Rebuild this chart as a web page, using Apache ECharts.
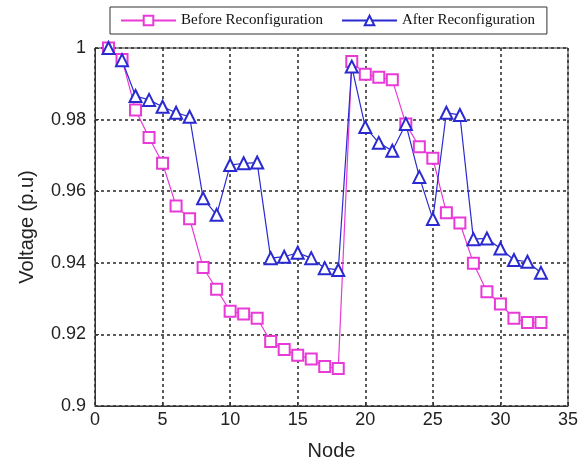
<!DOCTYPE html>
<html><head><meta charset="utf-8">
<script src="https://cdn.jsdelivr.net/npm/echarts@6/dist/echarts.min.js"></script>
<style>html,body{margin:0;padding:0;background:#fff}#c{width:587px;height:461px}</style>
</head><body><div id="c"></div>
<script>
var nodes = [1,2,3,4,5,6,7,8,9,10,11,12,13,14,15,16,17,18,19,20,21,22,23,24,25,26,27,28,29,30,31,32,33];
var before = [1.0,0.9968,0.9827,0.975,0.9678,0.9559,0.9523,0.9387,0.9326,0.9265,0.9257,0.9245,0.918,0.9158,0.9142,0.9131,0.911,0.9105,0.9962,0.9927,0.9918,0.9911,0.9788,0.9724,0.9692,0.954,0.9511,0.9399,0.9319,0.9285,0.9245,0.9233,0.9233];
var after = [1.0,0.9966,0.9866,0.9855,0.9836,0.9819,0.9808,0.958,0.9534,0.9673,0.9678,0.968,0.9413,0.9417,0.9428,0.9413,0.9385,0.938,0.9948,0.9779,0.9735,0.9713,0.9788,0.964,0.9522,0.9819,0.9813,0.9466,0.9468,0.944,0.9408,0.9403,0.9372];
var seriesNames = ['Before Reconfiguration','After Reconfiguration'];
var pink = '#e83ad6', blue = '#2a2ad0';
function pairs(v){return nodes.map(function(n,i){return [n,v[i]];});}
var chart = echarts.init(document.getElementById('c'));
var grid = '#333';
chart.setOption({
  animation:false,
  backgroundColor:'#fff',
  grid:{left:95,right:19,top:48,bottom:55,containLabel:false,outerBoundsMode:'none',show:true,borderColor:'#333',borderWidth:1,backgroundColor:'transparent'},
  legend:{
    left:110, top:7,
    padding:[6,12,6,10],
    borderColor:'#333', borderWidth:1, backgroundColor:'#fff',
    itemWidth:55, itemHeight:12, itemGap:18,
    textStyle:{fontFamily:'Liberation Serif',fontSize:15,color:'#111'},
    data:seriesNames
  },
  xAxis:{type:'value',min:0,max:35,interval:5,
    name:'Node',nameLocation:'middle',nameGap:35,
    nameTextStyle:{fontFamily:'Liberation Sans',fontSize:20,color:'#222'},
    axisLine:{show:true,lineStyle:{color:'#333'}},
    axisTick:{show:true,inside:true,length:4,lineStyle:{color:'#333'}},
    axisLabel:{fontFamily:'Liberation Sans',fontSize:18,color:'#222',margin:5},
    splitLine:{show:true,lineStyle:{color:grid,type:[3,3],width:1.6}}
  },
  yAxis:{type:'value',min:0.9,max:1.0,interval:0.02,
    name:'Voltage (p.u)',nameLocation:'middle',nameGap:58,
    nameTextStyle:{fontFamily:'Liberation Sans',fontSize:20,color:'#222'},
    axisLine:{show:true,lineStyle:{color:'#333'}},
    axisTick:{show:true,inside:true,length:4,lineStyle:{color:'#333'}},
    axisLabel:{fontFamily:'Liberation Sans',fontSize:18,color:'#222',margin:9,
      formatter:function(v){return String(Math.round(v*100)/100);}},
    splitLine:{show:true,lineStyle:{color:grid,type:[3,3],width:1.6}}
  },
  series:[
    {name:seriesNames[0],type:'line',data:pairs(before),color:pink,
     symbol:'emptyRect',symbolSize:11,lineStyle:{width:1.2,color:pink},
     itemStyle:{color:pink,borderWidth:1.2}},
    {name:seriesNames[1],type:'line',data:pairs(after),color:blue,
     symbol:'emptyTriangle',symbolSize:12,lineStyle:{width:1.2,color:blue},
     itemStyle:{color:blue,borderWidth:1.2}}
  ]
});
</script></body></html>
